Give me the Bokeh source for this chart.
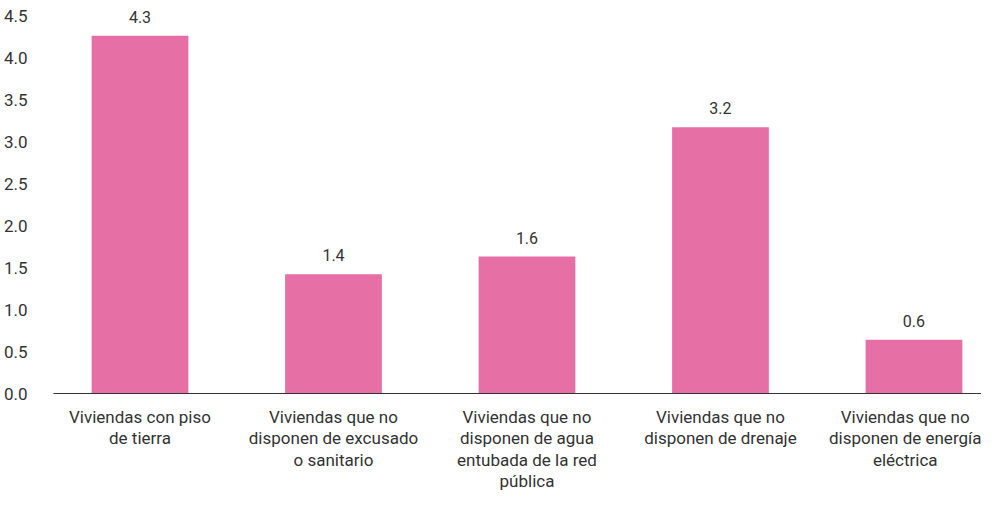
from bokeh.plotting import figure
from bokeh.models import ColumnDataSource, FixedTicker, Range1d
from bokeh.core.properties import value
from bokeh.embed import file_html
from bokeh.resources import INLINE

categories = [
    "Viviendas con piso\nde tierra",
    "Viviendas que no\ndisponen de excusado\no sanitario",
    "Viviendas que no\ndisponen de agua\nentubada de la red\npública",
    "Viviendas que no\ndisponen de drenaje",
    "Viviendas que no\ndisponen de energía\neléctrica",
]
values = [4.26, 1.42, 1.63, 3.17, 0.64]
labels = ["4.3", "1.4", "1.6", "3.2", "0.6"]
y_ticks = [0.0, 0.5, 1.0, 1.5, 2.0, 2.5, 3.0, 3.5, 4.0, 4.5]

FONT = "Roboto"
TXT = "#333333"

xs = list(range(len(categories)))
src = ColumnDataSource(dict(x=xs, top=values, label=labels))

p = figure(width=981, height=494, output_backend="svg", toolbar_location=None,
           x_range=Range1d(-0.447, 4.349), y_range=Range1d(0, 4.68),
           min_border_left=44, min_border_right=0, min_border_top=0, min_border_bottom=0)
p.outline_line_color = None
p.xgrid.visible = False
p.ygrid.visible = False

p.vbar(x="x", top="top", width=0.5, bottom=0, source=src, color="#E66FA5", line_color=None)
p.text(x="x", y="top", text="label", source=src, text_align="center",
       text_baseline="alphabetic", y_offset=-19, text_font=value(FONT),
       text_font_size="16px", text_color=TXT)

p.xaxis.ticker = FixedTicker(ticks=xs)
p.xaxis.major_label_overrides = {i: c for i, c in enumerate(categories)}
p.xaxis.major_tick_line_color = None
p.xaxis.minor_tick_line_color = None
p.xaxis.axis_line_color = "#333333"
p.xaxis.axis_line_width = 1.2
p.xaxis.major_label_text_font = FONT
p.xaxis.major_label_text_font_size = "17px"
p.xaxis.major_label_text_color = TXT
p.xaxis.major_label_text_line_height = 1.08
p.xaxis.major_label_standoff = 7

p.yaxis.ticker = FixedTicker(ticks=y_ticks)
p.yaxis.major_label_overrides = {t: f"{t:.1f}" for t in y_ticks}
p.yaxis.axis_line_color = None
p.yaxis.major_tick_line_color = None
p.yaxis.minor_tick_line_color = None
p.yaxis.major_label_text_font = FONT
p.yaxis.major_label_text_font_size = "17px"
p.yaxis.major_label_text_color = TXT
p.yaxis.major_label_standoff = 20

open("out.html", "w").write(file_html(p, INLINE))
